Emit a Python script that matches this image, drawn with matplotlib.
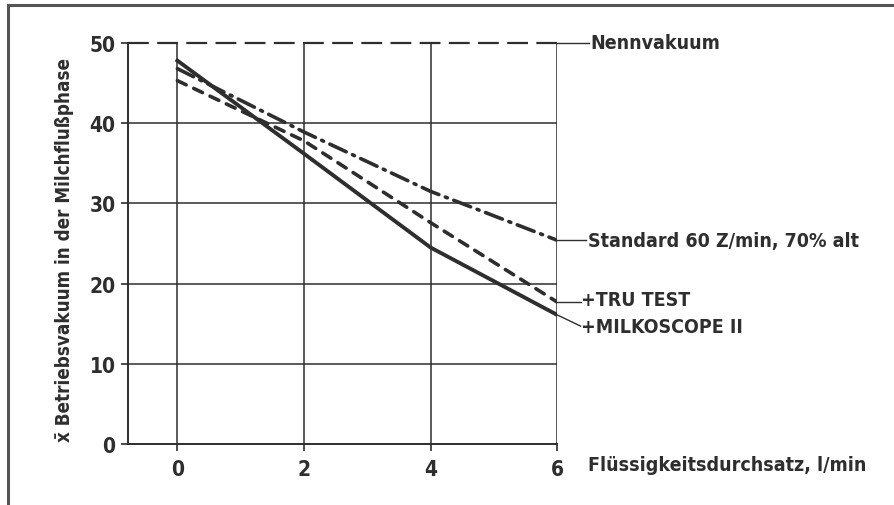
import numpy as np
import matplotlib.pyplot as plt
from matplotlib.lines import Line2D

# --- Daten ---
durchsatz = [0, 2, 4, 6]                      # l/min
standard = [46.8, 38.9, 31.5, 25.4]           # Standard 60 Z/min, 70% alt
tru_test = [45.3, 37.8, 27.6, 17.7]           # TRU TEST
milkoscope = [47.8, 36.2, 24.5, 16.1]         # MILKOSCOPE II
nennvakuum = 50

x_ticks = [0, 2, 4, 6]
y_ticks = [0, 10, 20, 30, 40, 50]

plt.rcParams['font.family'] = ['DejaVu Sans']
plt.rcParams['font.stretch'] = 'condensed'
plt.rcParams['font.weight'] = 'bold'
plt.rcParams['lines.scale_dashes'] = False

ink = '#2e2e2e'
fs = 14

fig = plt.figure(figsize=(8.94, 5.06), dpi=100)
ax = fig.add_axes([0.1432, 0.1206, 0.4800, 0.7925])

ax.set_xlim(-0.78, 6)
ax.set_ylim(0, 50)

# Raster
for xv in x_ticks:
    ax.axvline(xv, color=ink, lw=1.1, zorder=1)
for yv in y_ticks[1:-1]:
    ax.axhline(yv, color=ink, lw=1.1, zorder=1)

ax.spines['top'].set_visible(False)
ax.spines['right'].set_visible(False)
for s in ('left', 'bottom'):
    ax.spines[s].set_color(ink)
    ax.spines[s].set_linewidth(1.4)

ax.set_xticks(x_ticks)
ax.set_yticks(y_ticks)
ax.tick_params(axis='both', colors=ink, labelsize=15, length=5, width=1.2)
ax.tick_params(axis='x', pad=6)
ax.tick_params(axis='y', pad=4)

# Nennvakuum
ax.plot([-0.78, 6], [nennvakuum, nennvakuum], color=ink, lw=1.6,
        dashes=(15, 6), clip_on=False, zorder=3)
ax.plot([6, 6.5], [nennvakuum, nennvakuum], color=ink, lw=1.0, clip_on=False)
ax.text(6.53, nennvakuum, 'Nennvakuum', color=ink, fontsize=fs,
        va='center', ha='left')

# Kurven
ax.plot(durchsatz, standard, color=ink, lw=2.6, dashes=(13, 5, 1.5, 5),
        solid_capstyle='round', dash_capstyle='round', zorder=4)
ax.plot(durchsatz, tru_test, color=ink, lw=2.6, dashes=(7, 6),
        dash_capstyle='round', zorder=4)
ax.plot(durchsatz, milkoscope, color=ink, lw=2.8, zorder=4)

# Beschriftung der Kurven
ax.plot([6, 6.45], [standard[-1], standard[-1]], color=ink, lw=1.0, clip_on=False)
ax.text(6.48, standard[-1], 'Standard 60 Z/min, 70% alt', color=ink,
        fontsize=fs, va='center', ha='left')

ax.plot([6, 6.38], [tru_test[-1], tru_test[-1]], color=ink, lw=1.0, clip_on=False)
ax.text(6.37, tru_test[-1] + 0.3, '+TRU TEST', color=ink,
        fontsize=fs, va='center', ha='left')

ax.plot([6, 6.37], [milkoscope[-1], milkoscope[-1] - 1.4], color=ink, lw=1.0,
        clip_on=False)
ax.text(6.37, milkoscope[-1] - 1.4, '+MILKOSCOPE II', color=ink,
        fontsize=fs, va='center', ha='left')

# Achsenbeschriftung
ax.text(6.48, -2.6, 'Flüssigkeitsdurchsatz, l/min', color=ink, fontsize=fs,
        va='center', ha='left', clip_on=False)
fig.text(65 / 894, 1 - 250 / 506, 'x\u0304 Betriebsvakuum in der Milchflußphase',
         rotation=90, color=ink, fontsize=13.5, va='center', ha='center')

# Rahmen
fig.add_artist(Line2D([8 / 894, 8 / 894], [0, 1 - 6 / 506],
                      transform=fig.transFigure, color='#555555', lw=2.2))
fig.add_artist(Line2D([8 / 894, 1], [1 - 6 / 506, 1 - 6 / 506],
                      transform=fig.transFigure, color='#555555', lw=2.2))

fig.savefig('out.png', dpi=100)
